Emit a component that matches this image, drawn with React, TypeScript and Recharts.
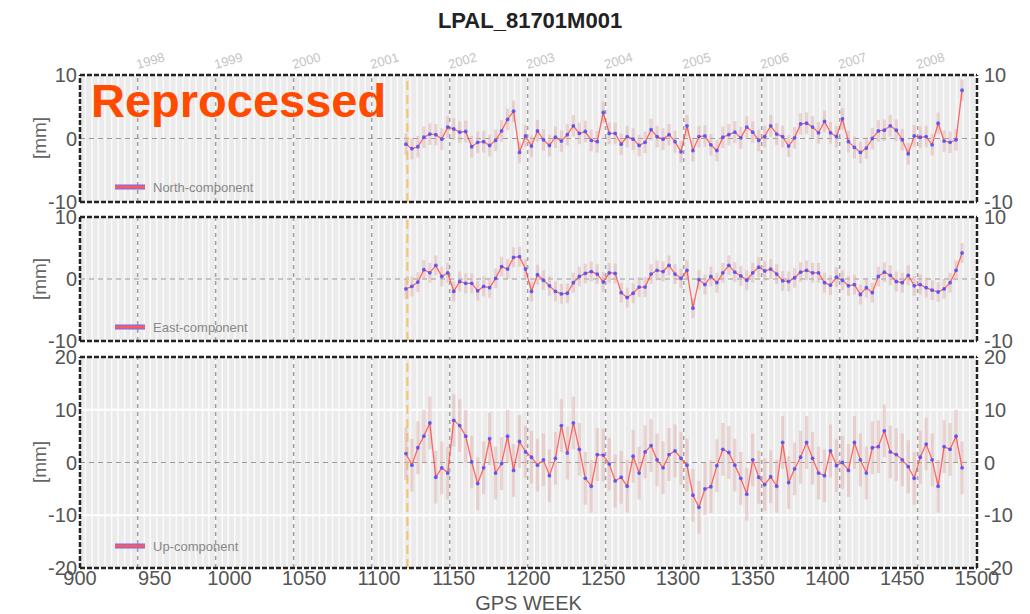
import React from 'react';
import { ComposedChart, Line, XAxis, YAxis, ReferenceLine, ReferenceArea, ErrorBar } from 'recharts';

// GPS weeks of the weekly solutions (sampled every 4 weeks from the plot)
const weeks = [
  1118, 1122, 1126, 1130, 1134, 1138, 1142, 1146, 1150, 1154,
  1158, 1162, 1166, 1170, 1174, 1178, 1182, 1186, 1190, 1194,
  1198, 1202, 1206, 1210, 1214, 1218, 1222, 1226, 1230, 1234,
  1238, 1242, 1246, 1250, 1254, 1258, 1262, 1266, 1270, 1274,
  1278, 1282, 1286, 1290, 1294, 1298, 1302, 1306, 1310, 1314,
  1318, 1322, 1326, 1330, 1334, 1338, 1342, 1346, 1350, 1354,
  1358, 1362, 1366, 1370, 1374, 1378, 1382, 1386, 1390, 1394,
  1398, 1402, 1406, 1410, 1414, 1418, 1422, 1426, 1430, 1434,
  1438, 1442, 1446, 1450, 1454, 1458, 1462, 1466, 1470, 1474,
  1478, 1482, 1486, 1490,
];

const northMm = [
  -0.9, -1.6, -1.3, 0.2, 0.7, 0.6, -0.1, 1.8, 1.5, 1.0,
  1.1, -1.3, -0.6, -0.5, -1.1, -0.3, 1.2, 3.0, 4.3, -2.2,
  0.4, -1.2, 1.2, -0.2, -1.1, 0.2, -0.4, 0.6, 2.0, 0.8,
  1.1, -0.3, -0.5, 4.1, 0.8, 0.8, -0.9, 0.3, -0.1, -1.1,
  -0.6, 1.4, 0.3, -0.1, 0.6, -0.5, -2.1, 2.0, -1.9, 0.3,
  0.4, -1.0, -1.9, 0.2, 0.6, 1.0, 0.1, 1.8, 1.0, -0.3,
  0.3, 2.0, 0.7, 0.3, -1.2, 0.1, 2.3, 2.4, 1.8, 0.9,
  2.7, 0.9, 0.3, 3.1, -0.5, -1.4, -2.2, -1.5, 0.0, 1.2,
  1.3, 2.0, 1.3, -0.2, -2.4, 0.4, 0.2, 0.3, -1.0, 2.4,
  -0.4, -0.6, -0.2, 7.6,
];

const eastMm = [
  -1.6, -1.2, -0.5, 1.5, 1.0, 2.2, 0.4, 1.0, -2.0, -0.4,
  -0.7, -0.7, -1.9, -1.2, -1.4, 0.1, 2.0, 1.6, 3.5, 3.6,
  1.6, -2.0, 0.7, -0.2, -1.1, -2.0, -2.4, -2.3, -0.6, 0.4,
  0.9, 1.2, 0.8, -0.5, 1.0, 0.9, -2.2, -3.0, -2.3, -1.3,
  -1.3, 0.8, 1.4, 1.2, 2.2, 0.8, 0.1, 1.4, -4.7, -0.1,
  -0.9, 0.4, -0.6, 1.0, 2.2, 1.1, 0.5, -0.2, 1.0, 1.9,
  1.3, 1.6, 0.8, -0.3, -0.4, 0.2, 1.1, 1.4, 1.0, 1.0,
  -0.6, -1.0, 0.3, -0.2, -1.1, -0.9, -2.5, -1.4, -2.2, 0.4,
  1.1, 0.6, -0.4, -0.6, 0.6, -1.1, -0.9, -1.4, -1.8, -2.1,
  -1.6, -0.6, 1.4, 4.2,
];

const upMm = [
  1.7, -0.5, 2.8, 5.0, 7.5, -2.8, -1.0, -2.0, 8.0, 7.0,
  5.0, 0.1, -4.0, -1.0, 4.5, -2.0, -0.2, 5.0, -1.5, 4.0,
  2.0, 1.0, -0.5, 0.5, -2.5, 0.8, 7.0, 1.8, 7.5, 2.5,
  -3.0, -4.5, 1.5, 1.4, -0.3, -3.5, -2.8, -4.5, 1.2, -2.0,
  2.0, 3.2, 0.5, -1.0, 1.5, 2.2, 0.8, -0.5, -6.2, -8.5,
  -5.0, -4.6, -0.6, 2.5, 1.9, -0.5, -3.0, -6.0, 0.5, -2.8,
  -4.2, -2.7, -4.5, 3.8, -3.8, -1.2, 1.0, 3.8, 0.8, -2.0,
  -2.5, 2.2, -0.6, 0.0, -1.5, 3.8, 0.5, -2.0, 2.8, 3.0,
  6.0, 2.0, 1.5, 0.5, -0.8, -3.0, 1.0, 3.5, 0.5, -4.5,
  3.0, 2.5, 5.0, -1.0,
];

// typical formal errors (mm)
const northSigma = 1.7;
const eastSigma = 1.6;
const upSigma = 5.0;

const weekTicks = [900, 950, 1000, 1050, 1100, 1150, 1200, 1250, 1300, 1350, 1400, 1450, 1500];
const smallTicks = [-10, 0, 10];
const upTicks = [-20, -10, 0, 10, 20];
const yearLabels = ['1998', '1999', '2000', '2001', '2002', '2003', '2004', '2005', '2006', '2007', '2008'];
const firstReprocessedWeek = 1119;

const NARROW = '"Liberation Sans Narrow", "Arial Narrow", "Liberation Sans", sans-serif';
const SANS = '"Liberation Sans", Arial, Helvetica, sans-serif';

// calendar -> GPS week, for the year lines and month stripes
const GPS_EPOCH = Date.UTC(1980, 0, 6);
const MS_WEEK = 7 * 86400000;
const toGpsWeek = (y: number, m: number) => (Date.UTC(y, m, 1) - GPS_EPOCH) / MS_WEEK;
const yearWeeks = yearLabels.map((y) => toGpsWeek(Number(y), 0));
const monthWeeks: number[] = [];
for (let y = 1997; y <= 2008; y++) {
  for (let m = 0; m < 12; m++) {
    const w = toGpsWeek(y, m);
    if (w > 900 && w < 1500) monthWeeks.push(w);
  }
}

const rows = weeks.map((week, i) => ({
  week,
  north: northMm[i],
  east: eastMm[i],
  up: upMm[i],
  northErr: northSigma,
  eastErr: eastSigma,
  upErr: upSigma,
}));

interface PanelProps {
  top: number;
  height: number;
  margin: { top: number; right: number; bottom: number; left: number };
  field: 'north' | 'east' | 'up';
  limit: number;
  ticks: number[];
  showYears?: boolean;
  showWeeks?: boolean;
}

const tickStyle = { fill: '#555', fontSize: 20, fontFamily: NARROW };

const Panel: React.FC<PanelProps> = ({ top, height, margin, field, limit, ticks, showYears, showWeeks }) => {
  return (
    <div style={{ position: 'absolute', left: 0, top }}>
      <ComposedChart width={1030} height={height} data={rows} margin={margin}>
        <XAxis
          dataKey="week"
          type="number"
          domain={[900, 1500]}
          ticks={weekTicks}
          interval={0}
          hide={!showWeeks}
          height={46}
          axisLine={false}
          tickLine={false}
          tickSize={0}
          tickMargin={3}
          tick={tickStyle}
          allowDataOverflow
          label={{ value: 'GPS WEEK', position: 'insideBottom', offset: 4, fill: '#555', fontSize: 20, fontFamily: NARROW }}
        />
        <YAxis
          domain={[-limit, limit]}
          ticks={ticks}
          interval={0}
          width={50}
          axisLine={false}
          tickLine={false}
          tickSize={0}
          tickMargin={3}
          tick={tickStyle}
          allowDataOverflow
        />
        <YAxis
          yAxisId="r"
          orientation="right"
          domain={[-limit, limit]}
          ticks={ticks}
          interval={0}
          width={30}
          axisLine={false}
          tickLine={false}
          tickSize={0}
          tickMargin={7}
          tick={tickStyle}
          allowDataOverflow
        />

        <ReferenceArea x1={900} x2={1500} y1={-limit} y2={limit} fill="#ebebeb" fillOpacity={1} stroke="none" />
        {monthWeeks.map((w) => (
          <ReferenceLine key={'m' + w} x={w} stroke="#fbfbfb" strokeWidth={1.5} />
        ))}
        {ticks
          .filter((t) => t !== 0 && Math.abs(t) !== limit)
          .map((t) => (
            <ReferenceLine key={'h' + t} y={t} stroke="#ffffff" strokeWidth={2} />
          ))}
        <ReferenceLine y={0} stroke="#9a9a9a" strokeDasharray="5 4" strokeWidth={1.2} />
        {yearWeeks.map((w, i) => (
          <ReferenceLine
            key={'y' + w}
            x={w}
            stroke="#a0a0a0"
            strokeDasharray="4 4"
            strokeWidth={1.5}
            label={
              showYears
                ? {
                    value: yearLabels[i],
                    position: 'top',
                    offset: 10,
                    dx: 14,
                    angle: -16,
                    fill: '#c4c4c4',
                    fontSize: 13,
                    fontFamily: SANS,
                  }
                : undefined
            }
          />
        ))}
        <ReferenceLine x={firstReprocessedWeek} stroke="#f6c26a" strokeDasharray="9 5" strokeWidth={2} />

        {/* dashed frame */}
        <ReferenceLine y={limit} stroke="#222" strokeDasharray="5 2" strokeWidth={2.5} />
        <ReferenceLine y={-limit} stroke="#222" strokeDasharray="5 2" strokeWidth={2.5} />
        <ReferenceLine x={900} stroke="#222" strokeDasharray="5 2" strokeWidth={2.5} />
        <ReferenceLine x={1500} stroke="#222" strokeDasharray="5 2" strokeWidth={2.5} />

        <Line dataKey={field} stroke="none" dot={false} isAnimationActive={false} legendType="none">
          <ErrorBar dataKey={field + 'Err'} width={0} stroke="#e0b2ad" strokeWidth={3.2} strokeOpacity={0.5} direction="y" />
        </Line>
        <Line
          dataKey={field}
          stroke="#ff3030"
          strokeWidth={1.3}
          strokeOpacity={0.7}
          dot={{ r: 1.9, fill: '#4b4bff', stroke: 'none', fillOpacity: 0.85 }}
          isAnimationActive={false}
        />
      </ComposedChart>
    </div>
  );
};

const LegendKey: React.FC<{ top: number; text: string }> = ({ top, text }) => (
  <div style={{ position: 'absolute', left: 114, top: top - 8, height: 16, display: 'flex', alignItems: 'center' }}>
    <svg width={32} height={8}>
      <line x1={1} y1={4} x2={31} y2={4} stroke="#6a6aff" strokeWidth={5} />
      <line x1={1} y1={4} x2={31} y2={4} stroke="#ff5a5a" strokeWidth={3} />
    </svg>
    <span style={{ marginLeft: 7, fontFamily: SANS, fontSize: 13, color: '#888' }}>{text}</span>
  </div>
);

const MmLabel: React.FC<{ top: number }> = ({ top }) => (
  <div
    style={{
      position: 'absolute',
      left: 40,
      top,
      transform: 'translate(-50%, -50%) rotate(-90deg)',
      fontFamily: NARROW,
      fontSize: 19,
      color: '#666',
      whiteSpace: 'nowrap',
    }}
  >
    [mm]
  </div>
);

export default function App() {
  return (
    <div style={{ position: 'absolute', left: 0, top: 0, width: 1030, height: 614, background: '#fff', overflow: 'hidden' }}>
      <Panel top={0} height={216} margin={{ top: 75, right: 23, bottom: 14, left: 30 }} field="north" limit={10} ticks={smallTicks} showYears />
      <Panel top={203} height={153} margin={{ top: 14, right: 23, bottom: 15, left: 30 }} field="east" limit={10} ticks={smallTicks} />
      <Panel top={340} height={274} margin={{ top: 17, right: 23, bottom: 0, left: 30 }} field="up" limit={20} ticks={upTicks} showWeeks />

      <div
        style={{
          position: 'absolute',
          left: 0,
          width: 1030,
          paddingLeft: 30,
          boxSizing: 'border-box',
          top: 8,
          textAlign: 'center',
          fontFamily: SANS,
          fontWeight: 'bold',
          fontSize: 22,
          color: '#222',
        }}
      >
        LPAL_81701M001
      </div>

      <MmLabel top={138} />
      <MmLabel top={279} />
      <MmLabel top={462} />

      <LegendKey top={187} text="North-component" />
      <LegendKey top={327} text="East-component" />
      <LegendKey top={546} text="Up-component" />

      <div
        style={{
          position: 'absolute',
          left: 91,
          top: 74,
          fontFamily: SANS,
          fontWeight: 'bold',
          fontSize: 47,
          color: '#ff4a00',
          lineHeight: '54px',
        }}
      >
        Reprocessed
      </div>
    </div>
  );
}
